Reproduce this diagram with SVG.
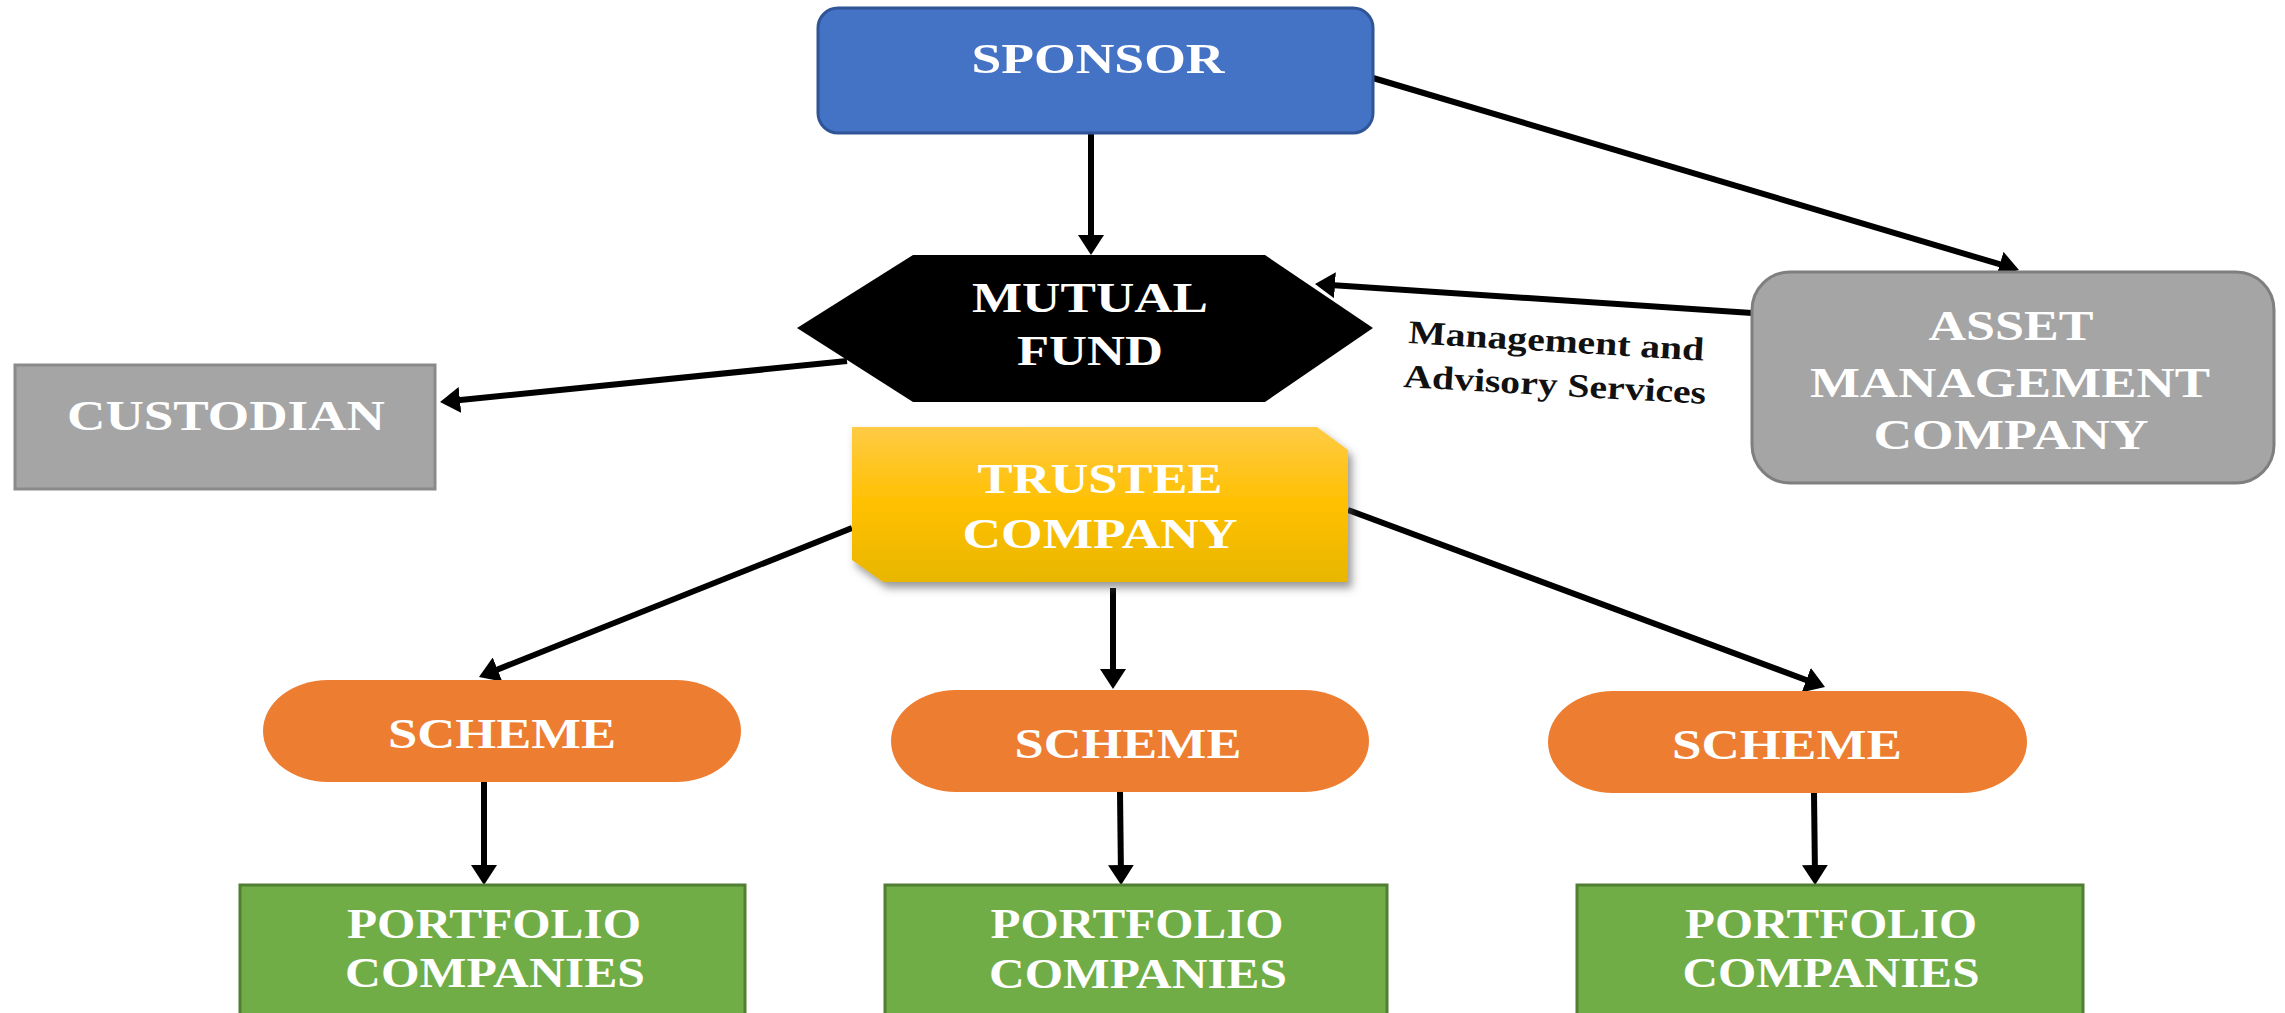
<svg xmlns="http://www.w3.org/2000/svg" width="2285" height="1013" viewBox="0 0 2285 1013">
<style>
.t{font-family:"Liberation Serif","Times New Roman",serif;font-weight:bold;fill:#ffffff;text-anchor:middle;font-size:43px}
.lbl{font-family:"Liberation Serif","Times New Roman",serif;font-weight:bold;fill:#111111;font-size:33px}
.c{stroke:#000000;stroke-width:6;fill:none}
</style>
<defs>
<marker id="ah" viewBox="0 0 20 26" refX="12" refY="13" markerWidth="20" markerHeight="26" markerUnits="userSpaceOnUse" orient="auto">
<path d="M0,0 L20,13 L0,26 Z" fill="#000000"/>
</marker>
<linearGradient id="gold" x1="0" y1="0" x2="0" y2="1">
<stop offset="0" stop-color="#FFCB45"/>
<stop offset="0.5" stop-color="#FFC000"/>
<stop offset="1" stop-color="#E8B600"/>
</linearGradient>
<filter id="sh" x="-10%" y="-10%" width="125%" height="135%">
<feDropShadow dx="4" dy="6" stdDeviation="4" flood-color="#555555" flood-opacity="0.6"/>
</filter>
</defs>
<rect width="2285" height="1013" fill="#ffffff"/>

<g id="connectors">
<line class="c" x1="1091" y1="133" x2="1091" y2="247" marker-end="url(#ah)"/>
<line class="c" x1="1373" y1="78" x2="2011.3" y2="267.7" marker-end="url(#ah)"/>
<line class="c" x1="1752" y1="313" x2="1323" y2="284.5" marker-end="url(#ah)"/>
<line class="c" x1="847" y1="361" x2="448" y2="401.2" marker-end="url(#ah)"/>
<line class="c" x1="852" y1="528" x2="486.4" y2="674" marker-end="url(#ah)"/>
<line class="c" x1="1113" y1="588" x2="1113" y2="681" marker-end="url(#ah)"/>
<line class="c" x1="1348" y1="510" x2="1817.5" y2="684.2" marker-end="url(#ah)"/>
<line class="c" x1="484" y1="782" x2="484" y2="877" marker-end="url(#ah)"/>
<line class="c" x1="1120" y1="792" x2="1121" y2="877" marker-end="url(#ah)"/>
<line class="c" x1="1814" y1="793" x2="1815" y2="877" marker-end="url(#ah)"/>
</g>

<g id="sponsor">
<rect x="818" y="8" width="555" height="125" rx="20" fill="#4472C4" stroke="#2F5597" stroke-width="3"/>
<text class="t" x="1098" y="73" font-size="44" textLength="253" lengthAdjust="spacingAndGlyphs">SPONSOR</text>
</g>

<g id="mutual-fund">
<polygon points="797,328 913,255 1265,255 1373,328 1265,402 913,402" fill="#000000"/>
<text class="t" x="1090" y="312" font-size="44" textLength="236" lengthAdjust="spacingAndGlyphs">MUTUAL</text>
<text class="t" x="1090" y="365" font-size="44" textLength="146" lengthAdjust="spacingAndGlyphs">FUND</text>
</g>

<g id="custodian">
<rect x="15" y="365" width="420" height="124" fill="#A5A5A5" stroke="#8A8A8A" stroke-width="3"/>
<text class="t" x="226" y="430" textLength="318" lengthAdjust="spacingAndGlyphs">CUSTODIAN</text>
</g>

<g id="amc">
<rect x="1752" y="272" width="522" height="211" rx="38" fill="#A5A5A5" stroke="#7F7F7F" stroke-width="3"/>
<text class="t" x="2011" y="340" textLength="165" lengthAdjust="spacingAndGlyphs">ASSET</text>
<text class="t" x="2010" y="397" textLength="400" lengthAdjust="spacingAndGlyphs">MANAGEMENT</text>
<text class="t" x="2011" y="449" textLength="275" lengthAdjust="spacingAndGlyphs">COMPANY</text>
</g>

<g id="label-management">
<text class="lbl" x="1408" y="343" transform="rotate(3.4 1408 343)" textLength="296" lengthAdjust="spacingAndGlyphs">Management and</text>
<text class="lbl" x="1403" y="387" transform="rotate(3.2 1403 387)" textLength="303" lengthAdjust="spacingAndGlyphs">Advisory Services</text>
</g>

<g id="trustee">
<polygon points="852,427 1317,427 1348,450 1348,582 883,582 852,560" fill="url(#gold)" filter="url(#sh)"/>
<text class="t" x="1100" y="493" textLength="245" lengthAdjust="spacingAndGlyphs">TRUSTEE</text>
<text class="t" x="1100" y="548" textLength="275" lengthAdjust="spacingAndGlyphs">COMPANY</text>
</g>

<g id="scheme-1">
<rect x="263" y="680" width="478" height="102" rx="65" ry="51" fill="#ED7D31"/>
<text class="t" x="502" y="748" textLength="228" lengthAdjust="spacingAndGlyphs">SCHEME</text>
</g>
<g id="scheme-2">
<rect x="891" y="690" width="478" height="102" rx="65" ry="51" fill="#ED7D31"/>
<text class="t" x="1128" y="758" textLength="227" lengthAdjust="spacingAndGlyphs">SCHEME</text>
</g>
<g id="scheme-3">
<rect x="1548" y="691" width="479" height="102" rx="65" ry="51" fill="#ED7D31"/>
<text class="t" x="1787" y="759" textLength="230" lengthAdjust="spacingAndGlyphs">SCHEME</text>
</g>

<g id="portfolio-1">
<rect x="240" y="885" width="505" height="140" fill="#70AD47" stroke="#507E32" stroke-width="3"/>
<text class="t" x="494" y="938" textLength="294" lengthAdjust="spacingAndGlyphs">PORTFOLIO</text>
<text class="t" x="495" y="987" textLength="300" lengthAdjust="spacingAndGlyphs">COMPANIES</text>
</g>
<g id="portfolio-2">
<rect x="885" y="885" width="502" height="140" fill="#70AD47" stroke="#507E32" stroke-width="3"/>
<text class="t" x="1137" y="938" textLength="293" lengthAdjust="spacingAndGlyphs">PORTFOLIO</text>
<text class="t" x="1138" y="988" textLength="298" lengthAdjust="spacingAndGlyphs">COMPANIES</text>
</g>
<g id="portfolio-3">
<rect x="1577" y="885" width="506" height="140" fill="#70AD47" stroke="#507E32" stroke-width="3"/>
<text class="t" x="1831" y="938" textLength="292" lengthAdjust="spacingAndGlyphs">PORTFOLIO</text>
<text class="t" x="1831" y="987" textLength="297" lengthAdjust="spacingAndGlyphs">COMPANIES</text>
</g>
</svg>
